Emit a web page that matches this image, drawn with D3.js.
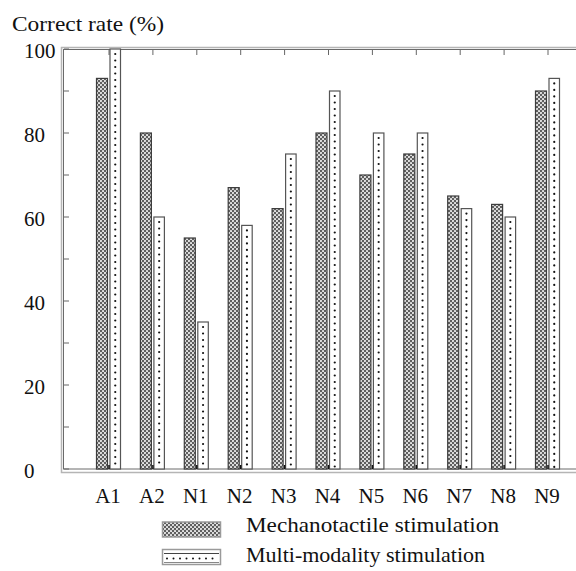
<!DOCTYPE html>
<html>
<head>
<meta charset="utf-8">
<script src="https://cdn.jsdelivr.net/npm/d3@7"></script>
<style>
body { margin:0; background:#fff; }
svg text { font-family:'Liberation Serif','Times New Roman','DejaVu Serif',serif; fill:#111; }
</style>
</head>
<body>
<script>
var categories = ["A1","A2","N1","N2","N3","N4","N5","N6","N7","N8","N9"];
var mechanotactile = [93,80,55,67,62,80,70,75,65,63,90];
var multimodality = [100,60,35,58,75,90,80,80,62,60,93];
var yTicks = [0,10,20,30,40,50,60,70,80,90,100];
var yLabels = [0,20,40,60,80,100];
var seriesNames = ["Mechanotactile stimulation","Multi-modality stimulation"];

var innerWidth = 576;
var innerHeight = 571;

var main_svg = d3.select("body")
				.append("svg")
				.attr("width", innerWidth)
				.attr("height", innerHeight)
				.attr("font-family","Liberation Serif, Times New Roman, DejaVu Serif, serif");

var x = d3.scalePoint()
			.domain(categories)
			.range([109,548]);

var y = d3.scaleLinear()
			.domain([0,100])
			.range([469,49]);

// patterns
var defs = main_svg.append("defs");

var mech = defs.append("pattern")
				.attr("id","mech")
				.attr("patternUnits","userSpaceOnUse")
				.attr("width",4)
				.attr("height",4);
mech.append("rect").attr("width",4).attr("height",4).attr("fill","#5e5e5e");
mech.append("circle").attr("cx",1).attr("cy",1).attr("r",1.05).attr("fill","#ececec");
mech.append("circle").attr("cx",3).attr("cy",3).attr("r",1.05).attr("fill","#ececec");

// frame
main_svg.append("rect")
		.attr("x",61.5).attr("y",47.5)
		.attr("width",540).attr("height",425)
		.attr("fill","none")
		.attr("stroke","#b5b5b5")
		.attr("stroke-width",1.5);

main_svg.append("rect")
		.attr("x",63.5).attr("y",49.5)
		.attr("width",540).attr("height",419.5)
		.attr("fill","none")
		.attr("stroke","#6a6a6a")
		.attr("stroke-width",1);

// y ticks
main_svg.append("g")
		.selectAll("line")
		.data(yTicks)
		.enter()
		.append("line")
		.attr("x1",64).attr("x2",69)
		.attr("y1",function(d){return y(d)})
		.attr("y2",function(d){return y(d)})
		.attr("stroke","#666");

main_svg.append("g")
		.selectAll("text")
		.data(yLabels)
		.enter()
		.append("text")
		.attr("x",24)
		.attr("y",function(d){return y(d)+2})
		.attr("dy","0.35em")
		.attr("font-size",21)
		.text(function(d){return d});

// top ticks
main_svg.append("g")
		.selectAll("line")
		.data(categories)
		.enter()
		.append("line")
		.attr("x1",function(d){return x(d)})
		.attr("x2",function(d){return x(d)})
		.attr("y1",50).attr("y2",55)
		.attr("stroke","#666");

// bars
main_svg.append("g")
		.attr("id","Mechanotactile")
		.selectAll("rect")
		.data(mechanotactile)
		.enter()
		.append("rect")
		.attr("x",function(d,i){return x(categories[i])-12.5})
		.attr("y",function(d){return y(d)})
		.attr("width",11)
		.attr("height",function(d){return y(0)-y(d)})
		.attr("fill","url(#mech)")
		.attr("stroke","#3d3d3d")
		.attr("stroke-width",1.2);

var multi_g = main_svg.append("g")
		.attr("id","Multimodality")
		.selectAll("g")
		.data(multimodality)
		.enter()
		.append("g");

multi_g.append("rect")
		.attr("x",function(d,i){return x(categories[i])+1})
		.attr("y",function(d){return y(d)})
		.attr("width",10.5)
		.attr("height",function(d){return y(0)-y(d)})
		.attr("fill","#fff")
		.attr("stroke","#555")
		.attr("stroke-width",1.2);

multi_g.each(function(d,i){
	var cx = x(categories[i])+6.25;
	var dots = d3.range(y(d)+5, y(0)-1, 6.5);
	d3.select(this).selectAll("circle")
		.data(dots)
		.enter()
		.append("circle")
		.attr("cx",cx)
		.attr("cy",function(v){return v})
		.attr("r",1.1)
		.attr("fill","#111");
});

// bottom ticks
main_svg.append("g")
		.selectAll("line")
		.data(categories)
		.enter()
		.append("line")
		.attr("x1",function(d){return x(d)})
		.attr("x2",function(d){return x(d)})
		.attr("y1",469).attr("y2",465)
		.attr("stroke","#111")
		.attr("stroke-width",1.5);

// x labels
main_svg.append("g")
		.selectAll("text")
		.data(categories)
		.enter()
		.append("text")
		.attr("x",function(d){return x(d)-1})
		.attr("y",503)
		.attr("text-anchor","middle")
		.attr("font-size",21)
		.text(function(d){return d});

// title
main_svg.append("text")
		.attr("x",12)
		.attr("y",31)
		.attr("font-size",21)
		.attr("textLength",152)
		.attr("lengthAdjust","spacingAndGlyphs")
		.text("Correct rate (%)");

// legend
main_svg.append("rect")
		.attr("x",162.5).attr("y",522)
		.attr("width",58).attr("height",15)
		.attr("fill","url(#mech)")
		.attr("stroke","#9a9a9a")
		.attr("stroke-width",1.5);

main_svg.append("rect")
		.attr("x",162.5).attr("y",549.5)
		.attr("width",58).attr("height",15)
		.attr("fill","#fff")
		.attr("stroke","#9a9a9a")
		.attr("stroke-width",1.5);

main_svg.append("line")
		.attr("x1",164).attr("x2",219)
		.attr("y1",553.5).attr("y2",553.5)
		.attr("stroke","#444");

main_svg.append("line")
		.attr("x1",164).attr("x2",219)
		.attr("y1",562.5).attr("y2",562.5)
		.attr("stroke","#888");

main_svg.append("g")
		.selectAll("circle")
		.data(d3.range(167,219,6.5))
		.enter()
		.append("circle")
		.attr("cx",function(d){return d})
		.attr("cy",558.5)
		.attr("r",1)
		.attr("fill","#111");

var legendLengths = [253,239];
main_svg.append("g")
		.selectAll("text")
		.data(seriesNames)
		.enter()
		.append("text")
		.attr("x",246)
		.attr("y",function(d,i){return 532+i*30})
		.attr("font-size",21)
		.attr("textLength",function(d,i){return legendLengths[i]})
		.attr("lengthAdjust","spacingAndGlyphs")
		.text(function(d){return d});
</script>
</body>
</html>
